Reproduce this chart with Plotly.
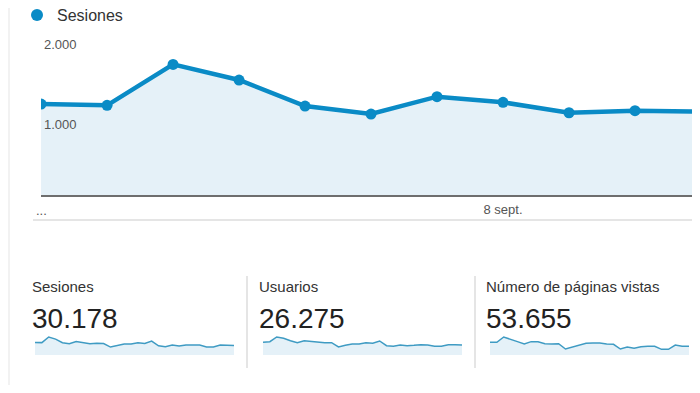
import plotly.graph_objects as go

# ---------------- data ----------------
days = [f"{d} sept." for d in range(1, 31)]
sessions_daily = [1141, 1125, 1636, 1441, 1116, 1016, 1233, 1162, 1032, 1058, 1045,
                  720, 840, 990, 990, 1110, 1050, 1260, 840, 750, 900, 810, 900, 930,
                  900, 720, 720, 900, 900, 870]
users_daily = [961, 1012, 1366, 1265, 1088, 936, 1088, 1037, 961, 936, 936, 607, 734,
               835, 835, 936, 886, 1063, 708, 658, 759, 708, 734, 784, 759, 658, 658,
               784, 784, 759]
pageviews_daily = [2189, 2189, 3110, 2765, 2304, 1901, 2304, 2304, 1958, 1901, 1958,
                   1037, 1382, 1728, 2016, 2074, 2074, 1901, 1843, 1037, 1382, 1152,
                   1440, 1498, 1498, 979, 979, 1728, 1498, 1498]
main_visible = 11  # days visible in the main chart
metric_names = ["Sesiones", "Usuarios", "Número de páginas vistas"]
metric_totals = ["30.178", "26.275", "53.655"]
y_ticks = [1000, 2000]
y_ticklabels = ["1.000", "2.000"]
x_tick_idx = [0, 7]
x_ticklabels = ["...", "8 sept."]

# ---------------- style ----------------
VW, VH = 700, 393          # browser window
OX, OY = 8, 8              # page body margin
W, H = VW - 2 * OX, VH - 2 * OY
FONT = "Liberation Sans, Arial, sans-serif"
BLUE = "#0a8bc6"
FILL = "#e5f1f8"
SPARK = "#3f9bc3"


def px(x):
    """window pixel x -> paper fraction"""
    return (x - OX) / W


def py(y):
    """window pixel y -> paper fraction"""
    return 1 - (y - OY) / H


fig = go.Figure()

main_x = list(range(main_visible))
fig.add_trace(go.Scatter(
    x=main_x, y=sessions_daily[:main_visible], mode="lines+markers",
    line=dict(color=BLUE, width=4.5), marker=dict(color=BLUE, size=11),
    fill="tozeroy", fillcolor=FILL, showlegend=False, hoverinfo="skip",
    xaxis="x", yaxis="y"))
# legend entry
fig.add_trace(go.Scatter(
    x=[None], y=[None], mode="markers", name="Sesiones",
    marker=dict(color=BLUE, size=12), xaxis="x", yaxis="y"))

spark_series = [sessions_daily, users_daily, pageviews_daily]
spark_x0 = [35, 263, 490]
spark_w = 199
sp_top, sp_bot, sp_peak = 330, 355, 337
for i, s in enumerate(spark_series):
    ax = str(i + 2)
    fig.add_trace(go.Scatter(
        x=list(range(len(s))), y=s, mode="lines",
        line=dict(color=SPARK, width=1.5), fill="tozeroy", fillcolor=FILL,
        showlegend=False, hoverinfo="skip", xaxis="x" + ax, yaxis="y" + ax))
    rmax = max(s) * (sp_bot - sp_top) / (sp_bot - sp_peak)
    fig.update_layout(**{
        "xaxis" + ax: dict(domain=[px(spark_x0[i]), px(spark_x0[i] + spark_w)],
                           range=[0, len(s) - 1], visible=False, anchor="y" + ax),
        "yaxis" + ax: dict(domain=[py(sp_bot), py(sp_top)], range=[0, rmax],
                           visible=False, anchor="x" + ax),
    })

# main plot: day 0 at window x 41, day spacing 66 px, clipped at the right edge
x_left, day_px = 41, 66
x_hi = (OX + W - x_left) / day_px
fig.update_layout(
    width=W, height=H, autosize=False,
    margin=dict(l=0, r=0, t=0, b=0, autoexpand=False),
    paper_bgcolor="white", plot_bgcolor="white",
    font=dict(family=FONT, color="#333"),
    xaxis=dict(domain=[px(x_left), 1], range=[-0.001, x_hi],
               tickvals=x_tick_idx[1:], ticktext=x_ticklabels[1:],
               showgrid=False, zeroline=False, showline=True,
               linecolor="#6e6e6e", linewidth=1.5, ticks="",
               tickfont=dict(size=13, color="#555"), ticklabelstandoff=1,
               anchor="y"),
    yaxis=dict(domain=[py(195.3), py(35.3)], range=[0, 2000],
               tickvals=y_ticks, ticktext=y_ticklabels,
               showgrid=True, gridcolor="#e9e9e9", gridwidth=1,
               zeroline=False, showline=False, ticks="",
               ticklabelposition="inside bottom",
               tickfont=dict(size=13, color="#555"), anchor="x"),
    showlegend=True,
    legend=dict(x=px(17), y=py(15), xanchor="left", yanchor="middle",
                orientation="h", font=dict(size=16, color="#333"),
                bgcolor="rgba(0,0,0,0)", itemwidth=30),
)

shapes = [
    dict(type="rect", xref="paper", yref="paper", x0=px(0), x1=px(10), y0=py(VH), y1=py(0),
         fillcolor="#f2f2f2", line=dict(width=0), layer="below"),
    dict(type="line", xref="paper", yref="paper", x0=px(33), x1=1,
         y0=py(220), y1=py(220), line=dict(color="#dddddd", width=1.5)),
    dict(type="line", xref="paper", yref="paper", x0=px(247), x1=px(247),
         y0=py(276), y1=py(368), line=dict(color="#dddddd", width=1.5)),
    dict(type="line", xref="paper", yref="paper", x0=px(475), x1=px(475),
         y0=py(276), y1=py(368), line=dict(color="#dddddd", width=1.5)),
]
fig.update_layout(shapes=shapes)

label_x = [30, 257, 484]
annotations = [
    # first x tick label (Plotly hides it next to inside y labels, so drawn here)
    dict(x=x_tick_idx[0], xref="x", y=py(210), yref="paper", text=x_ticklabels[0],
         showarrow=False, xanchor="center", yanchor="middle",
         font=dict(size=13, color="#555", family=FONT)),
]
for i in range(3):
    annotations.append(dict(
        x=px(label_x[i]), y=py(286), xref="paper", yref="paper",
        text=metric_names[i], showarrow=False, xanchor="left", yanchor="middle",
        font=dict(size=15, color="#333", family=FONT)))
    annotations.append(dict(
        x=px(label_x[i]), y=py(318), xref="paper", yref="paper",
        text=metric_totals[i], showarrow=False, xanchor="left", yanchor="middle",
        font=dict(size=28, color="#222", family=FONT)))
fig.update_layout(annotations=annotations)

fig.write_html("out.html")
